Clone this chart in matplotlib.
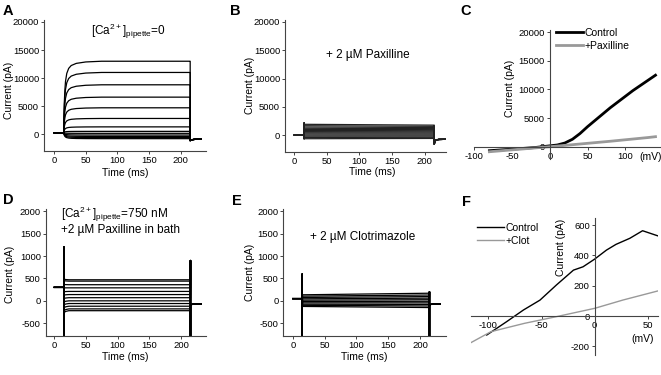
import matplotlib
matplotlib.use("Agg")
import matplotlib.pyplot as plt
import numpy as np

plt.rcParams['font.family'] = ['Liberation Sans', 'DejaVu Sans']
plt.rcParams['mathtext.default'] = 'regular'
plt.rcParams['axes.unicode_minus'] = False

W, H = 661, 375
TICK_FS = 6.8
LAB_FS = 7.5
TITLE_FS = 8.5

# ---------------- data ----------------
# step protocol timing (ms)
T_START, T_ON, T_OFF = 0, 15, 215

# Panel A: [Ca2+]pipette = 0 (steady-state levels, pA)
levels_A = [13000, 11000, 8800, 6600, 4700, 2800, 1300, 500, 150, -150, -400, -600, -800]
hold_A = 250
act_t_A = [0, 0.5, 1, 2, 3, 5, 8, 12, 20, 35, 60, 199]
act_f_A = [0, 0.2, 0.4, 0.6, 0.72, 0.83, 0.9, 0.94, 0.97, 0.99, 1.0, 1.0]
tail_t_A = [215, 216, 220, 225, 232]
tail_v_A = [-1150, -1050, -950, -900, -880]

# Panel B: + 2 uM Paxilline
levels_B_start = [1900, 1650, 1420, 1200, 1000, 800, 600, 400, 200, 0, -200, -420, -650]
levels_B_end = [1750, 1540, 1330, 1130, 950, 760, 570, 380, 190, 0, -190, -400, -600]
hold_B = 0
spike_on_B = (2200, -700)
tail_t_B = [215, 216, 218, 222, 232]
tail_v_B = [-1600, -1100, -850, -780, -760]

# Panel C: I-V (mV, pA)
V_C = [-80, -60, -40, -20, 0, 10, 20, 30, 40, 50, 60, 70, 80, 90, 100, 110, 120, 130, 140]
I_control_C = [-700, -520, -340, -150, 150, 300, 650, 1300, 2300, 3500, 4600, 5700,
               6800, 7800, 8800, 9800, 10700, 11600, 12500]
I_paxilline_C = [-880, -660, -440, -220, 0, 110, 230, 350, 470, 590, 710, 830,
                 950, 1080, 1210, 1340, 1470, 1600, 1750]

# Panel D: [Ca2+]pipette = 750 nM + 2 uM Paxilline in bath
levels_D = [470, 440, 360, 290, 210, 140, 70, 0, -60, -120, -180, -220]
hold_D = 300
act_t_D = [0, 0.5, 3, 8, 199]
act_f_D = [0, 1.08, 1.03, 1.0, 1.0]
spike_on_D = (1200, -900)
spike_off_D = (900, -900)
tail_t_D = [215, 217, 222, 232]
tail_v_D = [-100, -80, -75, -75]

# Panel E: + 2 uM Clotrimazole
levels_E_start = [135, 105, 75, 45, 15, -15, -45, -75, -100, -125]
levels_E_end = [170, 130, 95, 60, 25, -10, -45, -80, -115, -150]
hold_E = 50
spike_on_E = (600, -900)
spike_off_E = (200, -900)
tail_t_E = [215, 217, 222, 232]
tail_v_E = [-100, -80, -75, -75]

# Panel F: I-V (mV, pA)
V_F_control = [-101.5, -82.8, -67, -51.5, -36, -20, -11, 0, 11, 20, 33, 45, 59]
I_F_control = [-125, -37, 40, 105, 205, 303, 325, 376, 435, 473, 513, 563, 530]
V_F_clot = [-116, -97.5, -66, -36, 0, 26.7, 59]
I_F_clot = [-174, -103, -48, -4, 51, 106, 165]

time_ticks = [0, 50, 100, 150, 200]

fig = plt.figure(figsize=(W / 100, H / 100), dpi=100)


def ax_px(l, t, r, b):
    return fig.add_axes([l / W, 1 - b / H, (r - l) / W, (b - t) / H])


def ftext(x, y, s, **kw):
    fig.text(x / W, 1 - y / H, s, **kw)


def style(ax):
    for s in ['top', 'right']:
        ax.spines[s].set_visible(False)
    for s in ['left', 'bottom']:
        ax.spines[s].set_color('#444444')
        ax.spines[s].set_linewidth(0.8)
    ax.tick_params(labelsize=TICK_FS, length=2, width=0.7, color='#444444', pad=1.5)


def trace(hold, lv0, lv1, act_t, act_f, spk_on=None, spk_off=None, tail_t=(), tail_v=()):
    t = [T_START, T_ON]
    y = [hold, hold]
    if spk_on:
        t += [T_ON, T_ON]
        y += list(spk_on)
    for at, af in zip(act_t, act_f):
        tt = T_ON + at
        lv = lv0 + (lv1 - lv0) * at / (T_OFF - T_ON)
        t.append(tt)
        y.append(hold + (lv - hold) * af)
    t.append(T_OFF)
    y.append(lv1)
    if spk_off:
        t += [T_OFF, T_OFF]
        y += list(spk_off)
    t += list(tail_t)
    y += list(tail_v)
    return t, y


# ---------------- Panel A ----------------
axA = ax_px(44, 20, 206, 151)
style(axA)
for lv in levels_A:
    t, y = trace(hold_A, lv, lv, act_t_A, act_f_A, tail_t=tail_t_A, tail_v=tail_v_A)
    axA.plot(t, y, color='black', lw=0.9)
axA.set_xlim(-16, 240)
axA.set_ylim(-3000, 20350)
axA.set_xticks(time_ticks)
axA.set_yticks([0, 5000, 10000, 15000, 20000])

# ---------------- Panel B ----------------
axB = ax_px(285, 20, 446, 152)
style(axB)
for i, (l0, l1) in enumerate(zip(levels_B_start, levels_B_end)):
    t, y = trace(hold_B, l0, l1, [0, 0.3, 199], [0, 1, 1],
                 spk_on=spike_on_B if i == 0 else None,
                 tail_t=tail_t_B, tail_v=tail_v_B)
    axB.plot(t, y, color='#222222', lw=0.9)
axB.set_xlim(-14.3, 233)
axB.set_ylim(-3000, 20350)
axB.set_xticks(time_ticks)
axB.set_yticks([0, 5000, 10000, 15000, 20000])

# ---------------- Panel C ----------------
axC = ax_px(474.3, 30, 661, 159)
for s in ['top', 'right']:
    axC.spines[s].set_visible(False)
for s in ['left', 'bottom']:
    axC.spines[s].set_position(('data', 0))
    axC.spines[s].set_color('#444444')
    axC.spines[s].set_linewidth(0.8)
axC.tick_params(labelsize=TICK_FS, length=2, width=0.7, color='#444444', pad=1.5)
axC.plot(V_C, I_control_C, color='black', lw=2.0, label='Control')
axC.plot(V_C, I_paxilline_C, color='#999999', lw=2.0, label='+Paxilline')
axC.set_xlim(-100, 147.3)
axC.set_ylim(-2150, 20400)
axC.set_xticks([-100, -50, 0, 50, 100])
axC.set_yticks([0, 5000, 10000, 15000, 20000])
axC.legend(loc='upper left', bbox_to_anchor=(556 / W, 1 - 27.5 / H), bbox_transform=fig.transFigure,
           frameon=False, fontsize=LAB_FS, handlelength=2.6, handletextpad=0.15,
           borderpad=0, borderaxespad=0, labelspacing=0.3)

# ---------------- Panel D ----------------
axD = ax_px(45.7, 209, 206, 336)
style(axD)
for lv in levels_D:
    t, y = trace(hold_D, lv, lv, act_t_D, act_f_D, spk_on=spike_on_D, spk_off=spike_off_D,
                 tail_t=tail_t_D, tail_v=tail_v_D)
    axD.plot(t, y, color='black', lw=0.9)
axD.set_xlim(-13.6, 239.5)
axD.set_ylim(-785, 2050)
axD.set_xticks(time_ticks)
axD.set_yticks([-500, 0, 500, 1000, 1500, 2000])

# ---------------- Panel E ----------------
axE = ax_px(283.3, 209, 446, 336)
style(axE)
for l0, l1 in zip(levels_E_start, levels_E_end):
    t, y = trace(hold_E, l0, l1, [0, 0.3, 199], [0, 1, 1], spk_on=spike_on_E, spk_off=spike_off_E,
                 tail_t=tail_t_E, tail_v=tail_v_E)
    axE.plot(t, y, color='black', lw=0.9)
axE.set_xlim(-15, 241)
axE.set_ylim(-785, 2050)
axE.set_xticks(time_ticks)
axE.set_yticks([-500, 0, 500, 1000, 1500, 2000])

# ---------------- Panel F ----------------
axF = ax_px(470.7, 218, 658, 355)
for s in ['top', 'right']:
    axF.spines[s].set_visible(False)
for s in ['left', 'bottom']:
    axF.spines[s].set_position(('data', 0))
    axF.spines[s].set_color('#444444')
    axF.spines[s].set_linewidth(0.8)
axF.tick_params(labelsize=TICK_FS, length=2, width=0.7, color='#444444', pad=1.5)
axF.plot(V_F_control, I_F_control, color='black', lw=1.0, label='Control')
axF.plot(V_F_clot, I_F_clot, color='#999999', lw=1.0, label='+Clot')
axF.set_xlim(-116.6, 59.5)
axF.set_ylim(-257, 647)
axF.set_xticks([-100, -50, 0, 50])
axF.set_yticks([-200, 0, 200, 400, 600])
axF.legend(loc='upper left', bbox_to_anchor=(476.7 / W, 1 - 223 / H), bbox_transform=fig.transFigure,
           frameon=False, fontsize=LAB_FS, handlelength=2.6, handletextpad=0.15,
           borderpad=0, borderaxespad=0, labelspacing=0.3)

# ---------------- labels ----------------
for (x, y) in [(125.5, 173), (372, 172), (125.5, 357.5), (364.5, 357)]:
    ftext(x, y, 'Time (ms)', fontsize=LAB_FS, ha='center', va='center')
for (x, y) in [(9.5, 90), (250, 85), (10, 274), (250, 272), (510, 88.5), (561.5, 247.5)]:
    ftext(x, y, 'Current (pA)', fontsize=LAB_FS, ha='center', va='center', rotation=90)
ftext(651, 157, '(mV)', fontsize=LAB_FS, ha='center', va='center')
ftext(643, 338.5, '(mV)', fontsize=LAB_FS, ha='center', va='center')

ftext(128.7, 34.5, r'[Ca$^{2+}$]$_{pipette}$=0', fontsize=TITLE_FS, ha='center', va='baseline')
ftext(367.6, 58.3, '+ 2 µM Paxilline', fontsize=TITLE_FS, ha='center', va='baseline')
ftext(61, 218.3, r'[Ca$^{2+}$]$_{pipette}$=750 nM', fontsize=TITLE_FS, ha='left', va='baseline')
ftext(61, 233.3, '+2 µM Paxilline in bath', fontsize=TITLE_FS, ha='left', va='baseline')
ftext(363, 240, '+ 2 µM Clotrimazole', fontsize=TITLE_FS, ha='center', va='baseline')

for (x, y, s) in [(3, 15, 'A'), (230, 15, 'B'), (460, 15, 'C'),
                  (3, 204, 'D'), (232, 205, 'E'), (462, 206, 'F')]:
    ftext(x, y, s, fontsize=10.5, fontweight='bold', ha='left', va='baseline')

fig.savefig('out.png', dpi=100)
